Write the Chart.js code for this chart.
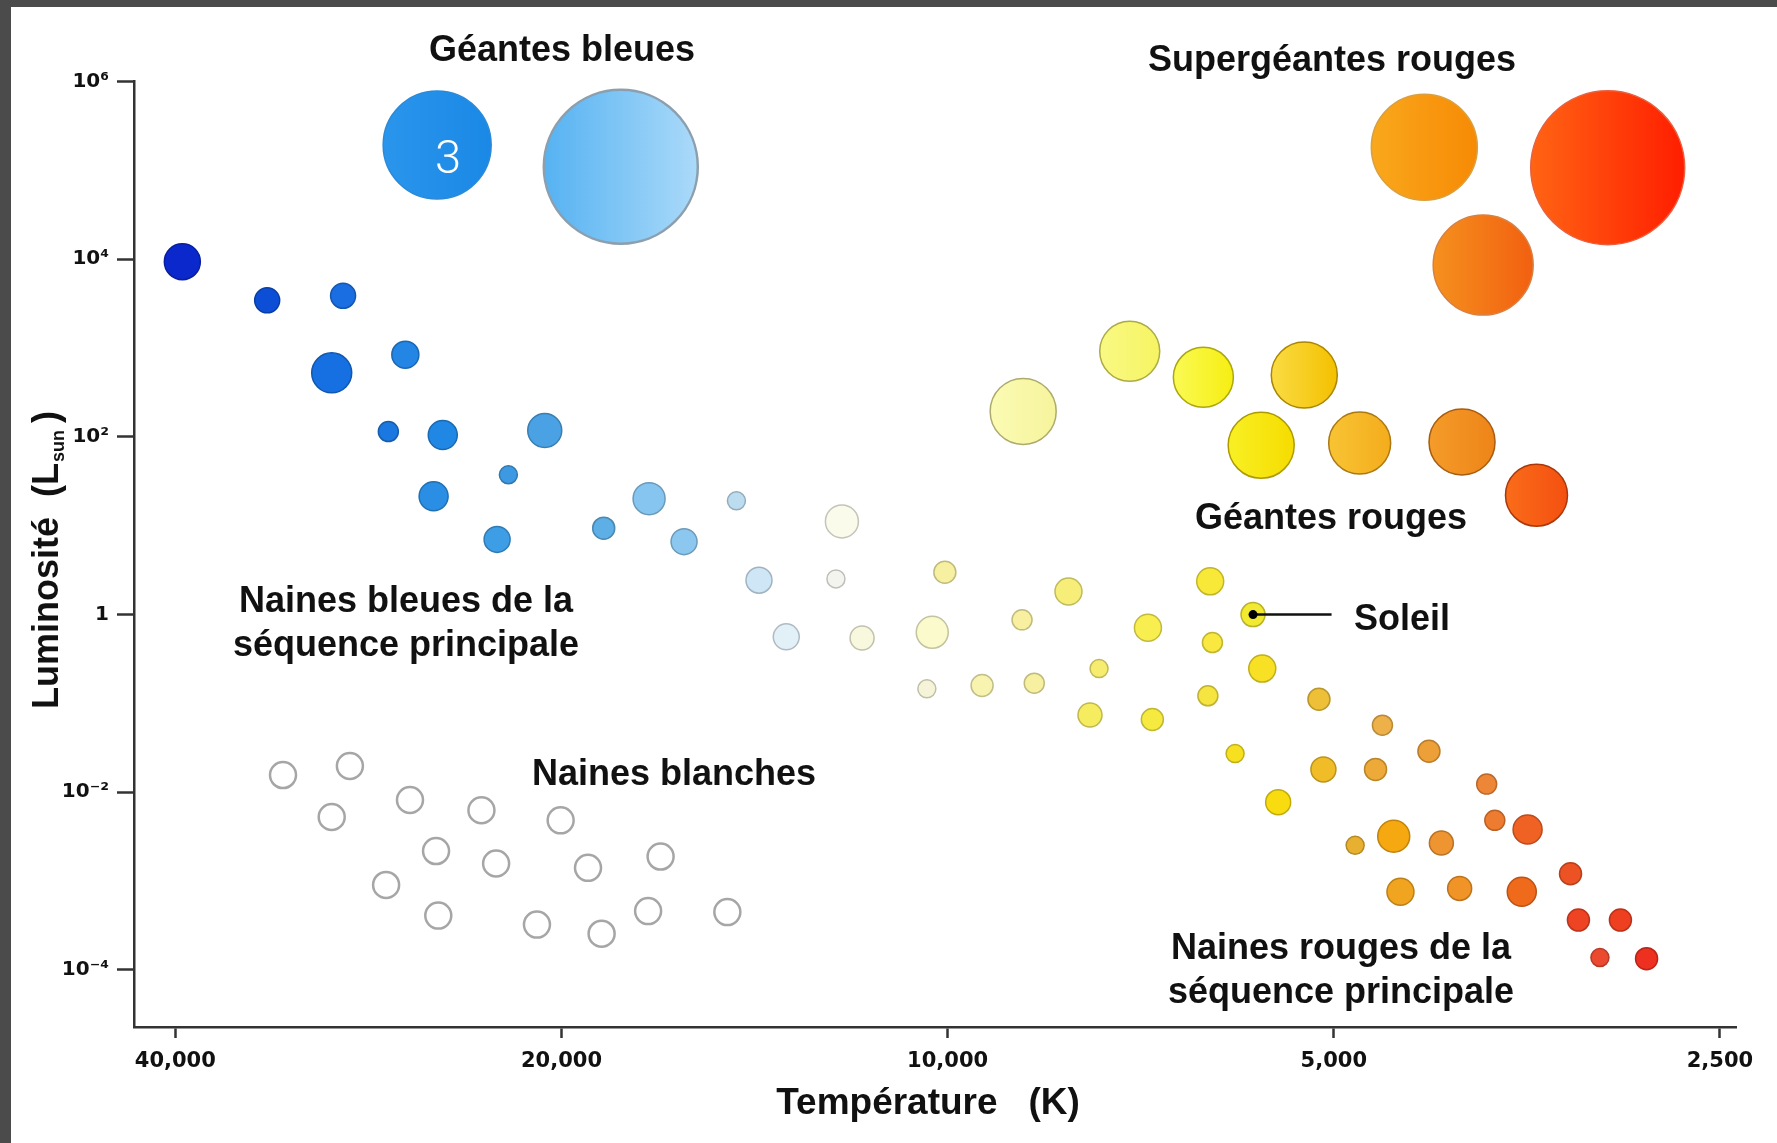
<!DOCTYPE html>
<html lang="fr">
<head>
<meta charset="utf-8">
<title>Diagramme de Hertzsprung-Russell</title>
<script src="https://cdn.jsdelivr.net/npm/chart.js@4.4.1/dist/chart.umd.min.js"></script>
<style>
  html, body { margin: 0; padding: 0; background: #fff; }
  #frame {
    width: 1766px; height: 1136px; background: #fff;
    border-top: 7px solid #4b4b4b; border-left: 11px solid #4b4b4b;
  }
  #hr { display: block; }
</style>
</head>
<body>
<div id="frame"><canvas id="hr" width="1766" height="1136"></canvas></div>
<script>
// Axis ticks
const tempTicks = [40000, 20000, 10000, 5000, 2500];
const lumTicks = [1e6, 1e4, 1e2, 1, 1e-2, 1e-4];
const lumTickLabels = ["10⁶", "10⁴", "10²", "1", "10⁻²", "10⁻⁴"];

// Géantes bleues
const blueGiantTemp = [25000, 17980];
const blueGiantLum = [1.93e5, 1.1e5];
const blueGiantSize = [54, 77];
const blueGiantLeft = ["#2a95ec", "#55b2f2"];
const blueGiantRight = ["#1a88e6", "#abdaf9"];

// Supergéantes rouges
const superGiantTemp = [4250, 3058, 3824];
const superGiantLum = [1.82e5, 1.07e5, 8.6e3];
const superGiantSize = [53, 77, 50];
const superGiantLeft = ["#f9a81c", "#ff6414", "#f5901e"];
const superGiantRight = ["#f78a05", "#ff1e00", "#f26010"];

// Géantes rouges
const redGiantTemp = [8732, 7212, 6319, 5272, 5696, 4773, 3972, 3475];
const redGiantLum = [194, 921, 469, 497, 80.5, 85.3, 87.9, 22.1];
const redGiantSize = [33, 30, 30, 33, 33, 31, 33, 31];
const redGiantLeft = ["#fbfbb4", "#f9f984", "#fafa54", "#fadc44", "#f8f024", "#f8c434", "#f49c2a", "#fa6c1a"];
const redGiantRight = ["#f6f49c", "#f6f462", "#f6ee12", "#f4c000", "#f6dc00", "#f4ac1c", "#ee8418", "#f45010"];

// Séquence principale
const mainTemp = [39500, 33920, 29600, 30210, 26470, 27290, 24750, 20610, 25160, 22000,
  22450, 18540, 17090, 16050, 14610, 14030, 13360, 12090, 12220, 11660,
  10280, 10050, 10380, 9400, 8750, 8560, 8050, 7620, 7745, 6980,
  6925, 6242, 6217, 6268, 5685, 5969, 5525, 5135, 4582, 4215,
  5094, 4639, 3800, 4812, 4490, 4122, 3745, 3531, 4436, 3989,
  3568, 3269, 3223, 2989, 3101, 2852];
const mainLum = [9400, 3450, 3880, 527, 843, 115, 105, 118, 21.5, 37.5,
  7.03, 9.4, 20.2, 6.63, 19.1, 2.44, 0.562, 11.2, 2.52, 0.546,
  0.632, 3.0, 0.146, 0.159, 0.873, 0.169, 1.82, 0.247, 0.0741, 0.711,
  0.0659, 2.37, 0.485, 0.122, 0.247, 0.0273, 0.00773, 0.1117, 0.0569, 0.029,
  0.0181, 0.0181, 0.01236, 0.00253, 0.0032, 0.00268, 0.00483, 0.00382, 7.59e-4, 8.28e-4,
  7.59e-4, 1.21e-3, 3.64e-4, 3.64e-4, 1.38e-4, 1.34e-4];
const mainSize = [18, 12.5, 12.5, 20, 13.5, 10, 14.5, 17, 14.5, 9,
  13, 11, 16, 13, 9, 13, 13, 16.5, 9, 12,
  16, 11, 9, 11, 10, 10, 13.5, 9, 12, 13.5,
  11, 13.5, 10, 10, 13.5, 9, 12.5, 11, 10, 11,
  12.5, 11, 10, 9, 16, 12, 10, 14.5, 13.5, 12,
  14.5, 11, 11, 11, 9, 11];
const mainFill = ["#0b28cc", "#0c4fd6", "#1a6ee2", "#1670e2", "#2385e4", "#1b78e0", "#2088e4", "#4aa2e4", "#2a8fe4", "#3d9ae2",
  "#3d9ee6", "#5eafe6", "#86c5ef", "#8cc7ef", "#bcdcf0", "#cfe6f6", "#e2f0f8", "#fbfbec", "#f4f4ee", "#f8f8de",
  "#fafacc", "#f6f0a0", "#f6f4d8", "#f8f4b0", "#f8f0a0", "#f6f0a0", "#f6ee78", "#f6ec70", "#f6ec60", "#f8ee50",
  "#f6ea40", "#f8e838", "#f8e840", "#f6e440", "#f8e024", "#f6e020", "#f8dc10", "#eec038", "#eeb048", "#eea038",
  "#f0bc28", "#eeaa38", "#ee8638", "#e8b030", "#f6a810", "#ee9430", "#ee7c30", "#f06224", "#f0a420", "#f09428",
  "#f06a1c", "#ec5224", "#ee4424", "#ee4020", "#ec4a30", "#ee3020"];

// Naines blanches
const dwarfTemp = [32970, 29240, 30210, 26250, 23090, 20030, 25050, 22490, 19070, 16740,
  27400, 24950, 20900, 18610, 17120, 14850];
const dwarfLum = [0.01563, 0.01977, 0.00527, 0.00819, 0.00628, 0.00483, 0.00218, 0.00158, 0.00141, 0.00189,
  9.06e-4, 4.09e-4, 3.24e-4, 2.56e-4, 4.6e-4, 4.48e-4];

// Soleil
const sunTemp = 5780;
const sunLum = 1;
const sunPointerEnd = 5020;

function toPoints(temps, lums, sizes) {
  return temps.map((t, i) => ({ x: t, y: lums[i], r: sizes ? sizes[i] : 13 }));
}

function darken(hex, f) {
  const n = parseInt(hex.slice(1), 16);
  const r = Math.round(((n >> 16) & 255) * f);
  const g = Math.round(((n >> 8) & 255) * f);
  const b = Math.round((n & 255) * f);
  return `rgb(${r},${g},${b})`;
}

// left-to-right shading like the big stars of the picture
function sideShade(left, right) {
  return (ctx) => {
    const p = ctx.raw;
    const i = ctx.dataIndex || 0;
    const sx = ctx.chart.scales && ctx.chart.scales.x;
    if (!p || !sx) return left[i];
    const cx = sx.getPixelForValue(p.x);
    if (!isFinite(cx)) return left[i];
    const g = ctx.chart.ctx.createLinearGradient(cx - p.r, 0, cx + p.r, 0);
    g.addColorStop(0, left[i]);
    g.addColorStop(1, right[i]);
    return g;
  };
}

// keep the plot box where it is in the picture (no room made for end labels)
function noEdgePadding(s) {
  s.paddingLeft = 0;
  s.paddingRight = 0;
  s.paddingTop = 0;
  s.paddingBottom = 0;
}

const BOLD = '"Liberation Sans", Arial, Helvetica, sans-serif';

// Region names, the "3" marker and axis titles
const labelPlugin = {
  id: "hrLabels",
  afterDraw(chart) {
    const c = chart.ctx;
    c.save();
    c.fillStyle = "#111";
    c.textAlign = "center";
    c.textBaseline = "alphabetic";
    c.font = "bold 36px " + BOLD;
    c.fillText("Géantes bleues", 551, 54);
    c.fillText("Supergéantes rouges", 1321, 64);
    c.fillText("Géantes rouges", 1320, 522);
    c.fillText("Naines bleues de la", 395, 605);
    c.fillText("séquence principale", 395, 649);
    c.fillText("Naines blanches", 663, 778);
    c.fillText("Naines rouges de la", 1330, 952);
    c.fillText("séquence principale", 1330, 996);
    c.font = "bold 37px " + BOLD;
    c.fillText("Température   (K)", 917, 1107);
    c.font = "bold 36px " + BOLD;
    c.textAlign = "left";
    c.fillText("Soleil", 1343, 623);

    // y title with subscript
    c.translate(47, 553);
    c.rotate(-Math.PI / 2);
    const big = "bold 36px " + BOLD;
    const small = "bold 18px " + BOLD;
    c.font = big;
    const w1 = c.measureText("Luminosité  (L").width;
    const w3 = c.measureText(")").width;
    c.font = small;
    const w2 = c.measureText("sun").width + 8;
    let x0 = -(w1 + w2 + w3) / 2;
    c.font = big;
    c.fillText("Luminosité  (L", x0, 0);
    c.font = small;
    c.fillText("sun", x0 + w1 + 1, 6);
    c.font = big;
    c.fillText(")", x0 + w1 + w2, 0);
    c.restore();

    c.save();
    c.fillStyle = "#fff";
    c.textAlign = "center";
    c.textBaseline = "middle";
    c.font = '300 47px Roboto, "Open Sans", sans-serif';
    c.fillText("3", 437, 154);
    c.restore();
  }
};

const bubbleBase = { type: "bubble", clip: false };

new Chart(document.getElementById("hr"), {
  type: "bubble",
  data: {
    datasets: [
      {
        ...bubbleBase, label: "Soleil (centre)", order: 0,
        data: [{ x: sunTemp, y: sunLum, r: 4.5 }],
        backgroundColor: "#000", borderWidth: 0
      },
      {
        type: "line", label: "Soleil (repère)", order: 1,
        data: [{ x: sunTemp, y: sunLum }, { x: sunPointerEnd, y: sunLum }],
        borderColor: "#111", borderWidth: 2.5, pointRadius: 0, clip: false
      },
      {
        ...bubbleBase, label: "Soleil", order: 2,
        data: [{ x: sunTemp, y: sunLum, r: 12 }],
        backgroundColor: "#f2ea30", borderColor: "#b9b02e", borderWidth: 1.5
      },
      {
        ...bubbleBase, label: "Naines blanches", order: 3,
        data: toPoints(dwarfTemp, dwarfLum),
        backgroundColor: "#fff", borderColor: "#a6a6a6", borderWidth: 2.5
      },
      {
        ...bubbleBase, label: "Séquence principale", order: 4,
        data: toPoints(mainTemp, mainLum, mainSize),
        backgroundColor: mainFill,
        borderColor: mainFill.map((h) => darken(h, 0.78)),
        borderWidth: 1.5
      },
      {
        ...bubbleBase, label: "Géantes rouges", order: 5,
        data: toPoints(redGiantTemp, redGiantLum, redGiantSize),
        backgroundColor: sideShade(redGiantLeft, redGiantRight),
        borderColor: redGiantRight.map((h) => darken(h, 0.7)),
        borderWidth: 1.5
      },
      {
        ...bubbleBase, label: "Supergéantes rouges", order: 6,
        data: toPoints(superGiantTemp, superGiantLum, superGiantSize),
        backgroundColor: sideShade(superGiantLeft, superGiantRight),
        borderColor: ["#d8a040", "#e86040", "#d88040"],
        borderWidth: 1.5
      },
      {
        ...bubbleBase, label: "Géantes bleues", order: 7,
        data: toPoints(blueGiantTemp, blueGiantLum, blueGiantSize),
        backgroundColor: sideShade(blueGiantLeft, blueGiantRight),
        borderColor: ["#2a8ad8", "#8c9fae"],
        borderWidth: [1.5, 2.5]
      }
    ]
  },
  options: {
    responsive: false,
    animation: false,
    events: [],
    layout: { autoPadding: false, padding: { top: 74.6, right: 41, left: 0, bottom: 0 } },
    plugins: { legend: { display: false }, tooltip: { enabled: false } },
    scales: {
      x: {
        type: "logarithmic",
        reverse: true,
        min: 2429,
        max: 43080,
        afterBuildTicks: (s) => { s.ticks = tempTicks.map((v) => ({ value: v })); },
        afterFit: (s) => { s.height = 116; noEdgePadding(s); },
        ticks: {
          autoSkip: false,
          maxRotation: 0,
          padding: 11,
          color: "#111",
          font: { family: '"DejaVu Sans", sans-serif', size: 21, weight: "bold" },
          callback: (v) => Number(v).toLocaleString("en-US")
        },
        grid: { drawOnChartArea: false, tickLength: 11, tickWidth: 2.5, tickColor: "#333" },
        border: { display: true, color: "#333", width: 2.5 }
      },
      y: {
        type: "logarithmic",
        min: 2.28e-5,
        max: 1e6,
        afterBuildTicks: (s) => { s.ticks = lumTicks.map((v) => ({ value: v })); },
        afterFit: (s) => { s.width = 123; noEdgePadding(s); },
        ticks: {
          autoSkip: false,
          padding: 8,
          color: "#111",
          font: { family: '"DejaVu Sans", sans-serif', size: 20, weight: "bold" },
          callback: (v) => lumTickLabels[lumTicks.findIndex((t) => Math.abs(Math.log10(t) - Math.log10(v)) < 1e-6)]
        },
        grid: { drawOnChartArea: false, tickLength: 17, tickWidth: 2.5, tickColor: "#333" },
        border: { display: true, color: "#333", width: 2.5 }
      }
    }
  },
  plugins: [labelPlugin]
});
</script>
</body>
</html>
